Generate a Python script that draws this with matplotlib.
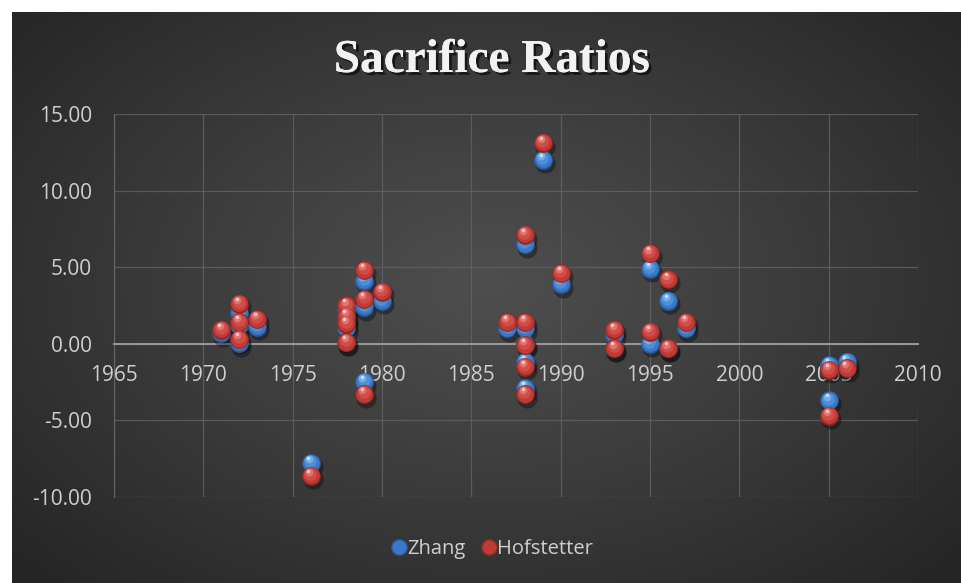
import numpy as np
import matplotlib
matplotlib.use("Agg")
import matplotlib.pyplot as plt
from matplotlib.transforms import offset_copy
import matplotlib.patheffects as pe
from matplotlib.lines import Line2D

# ---- data ----
years = [1971, 1972, 1972, 1972, 1973, 1976, 1978, 1978, 1978, 1978,
         1979, 1979, 1979, 1980, 1987, 1988, 1988, 1988, 1988, 1988,
         1989, 1990, 1993, 1993, 1995, 1995, 1996, 1996, 1997,
         2005, 2005, 2006]
zhang = [0.7, 2.0, 1.2, 0.05, 1.1, -7.8, 2.2, 1.6, 1.0, 0.1,
         4.1, 2.4, -2.5, 2.8, 1.0, 6.5, 1.0, 0.0, -1.2, -2.9,
         12.0, 3.9, 0.6, -0.3, 4.9, 0.0, 2.8, -0.3, 1.0,
         -1.4, -3.7, -1.2]
hofstetter = [0.9, 2.6, 1.4, 0.3, 1.6, -8.6, 2.5, 1.8, 1.3, 0.1,
              4.8, 2.9, -3.3, 3.4, 1.4, 7.1, 1.4, -0.1, -1.5, -3.3,
              13.1, 4.6, 0.9, -0.3, 5.9, 0.8, 4.2, -0.3, 1.4,
              -1.7, -4.7, -1.6]
series_names = ["Zhang", "Hofstetter"]
x_ticks = [1965, 1970, 1975, 1980, 1985, 1990, 1995, 2000, 2005, 2010]
y_ticks = [-10, -5, 0, 5, 10, 15]

W, H = 961, 583
fig = plt.figure(figsize=(W / 100, H / 100), dpi=100)
fig.patch.set_facecolor("white")

# background with radial gradient
bg = fig.add_axes([12 / W, 0, 1 - 12 / W, 1 - 12 / H])
bg.set_axis_off()
gx, gy = np.meshgrid(np.linspace(-1, 1, 400), np.linspace(-1, 1, 300))
r = np.sqrt((gx / 1.0) ** 2 + ((gy + 0.05) / 1.1) ** 2)
r = np.clip(r / 1.35, 0, 1)
c0, c1 = 0x4e / 255, 0x25 / 255
val = c0 + (c1 - c0) * r ** 1.1
img = np.dstack([val, val, val])
bg.imshow(img, aspect="auto", extent=[0, 1, 0, 1], interpolation="bilinear")
bg.set_xlim(0, 1)
bg.set_ylim(0, 1)

# plot area
L, R, T, B = 114, 918, 114, 497
ax = fig.add_axes([L / W, 1 - B / H, (R - L) / W, (B - T) / H])
ax.set_facecolor("none")
ax.set_xlim(1965, 2010)
ax.set_ylim(-10, 15)
ax.set_xticks(x_ticks)
ax.set_yticks(y_ticks)
ax.grid(True, color="#666666", linewidth=0.9, alpha=0.75)
ax.set_axisbelow(True)
for s in ax.spines.values():
    s.set_visible(False)
ax.spines["left"].set_visible(True)
ax.spines["left"].set_color("#666666")
ax.spines["bottom"].set_position(("data", 0))
ax.spines["bottom"].set_visible(True)
ax.spines["bottom"].set_color("#9a9a9a")
ax.spines["bottom"].set_linewidth(1.4)
ax.tick_params(axis="both", length=0, colors="#cfcfcf", labelsize=15)
ax.tick_params(axis="x", pad=15)
ax.tick_params(axis="y", pad=16)
ax.yaxis.set_major_formatter(matplotlib.ticker.FormatStrFormatter("%.2f"))
for lab in ax.get_xticklabels() + ax.get_yticklabels():
    lab.set_fontfamily("Open Sans")

def sphere(xs, ys, base, mid, light, label=None):
    tr = offset_copy(ax.transData, fig=fig, x=1.5, y=-2.5, units="points")
    ax.plot(xs, ys, "o", ms=14.5, color="black", alpha=0.35, mec="none",
            transform=tr, zorder=3)
    ax.plot(xs, ys, "o", ms=13.5, color=base, mec="none", zorder=4, label=label)
    layers = [(12.0, 0.0, 0.5, mid), (9.0, -0.4, 1.4, light[0]),
              (5.5, -1.2, 2.8, light[1]), (2.5, -1.5, 3.6, light[2])]
    for ms, dx, dy, col in layers:
        tr = offset_copy(ax.transData, fig=fig, x=dx, y=dy, units="points")
        ax.plot(xs, ys, "o", ms=ms, color=col, mec="none", transform=tr, zorder=4)

sphere(years, zhang, "#2a5c9e", "#3a78c8", ["#4f8fd8", "#76aee8", "#c8e0f8"],
       label=series_names[0])
sphere(years, hofstetter, "#8e2a26", "#c03a36", ["#d24c48", "#e07470", "#f6c8c6"],
       label=series_names[1])

# title
fig.text(0.512, 1 - 61 / H, "Sacrifice Ratios", ha="center", va="center",
         fontsize=34, fontweight="bold", family="Liberation Serif",
         color="#f2f2f2",
         path_effects=[pe.withSimplePatchShadow(offset=(2, -2), shadow_rgbFace="black", alpha=0.6),
                       pe.Normal()])

# legend
handles = [Line2D([], [], marker="o", ls="none", ms=11, color="#3a78c8", mec="#2a5c9e"),
           Line2D([], [], marker="o", ls="none", ms=11, color="#c03a36", mec="#8e2a26")]
leg = fig.legend(handles, series_names, loc="center", bbox_to_anchor=(0.51, 1 - 549 / H),
                 ncol=2, frameon=False, handletextpad=-0.2, columnspacing=0.6,
                 handlelength=1.2,
                 prop={"family": "Open Sans", "size": 14.5}, labelcolor="#cfcfcf")

fig.savefig("out.png", dpi=100, facecolor="white")
